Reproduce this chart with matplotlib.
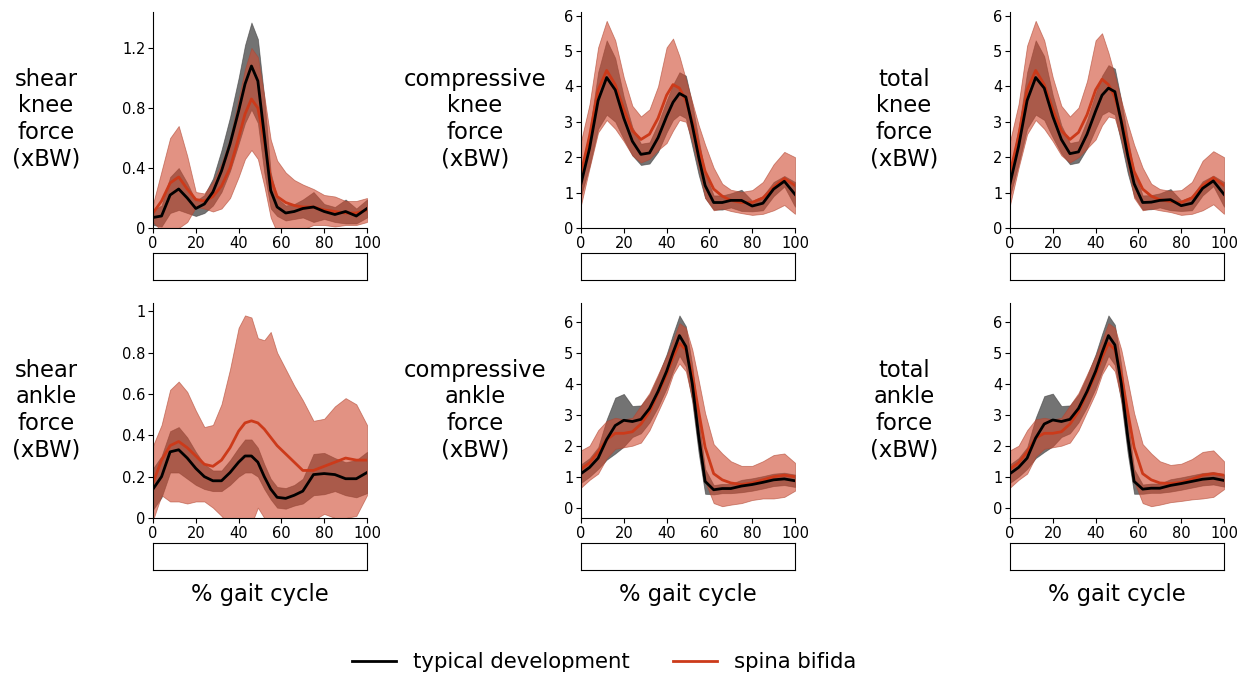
import numpy as np
import matplotlib
matplotlib.use("Agg")
import matplotlib.pyplot as plt
from matplotlib.ticker import FuncFormatter

# ---------------- data ----------------
gait_pct = [0, 4, 8, 12, 16, 20, 24, 28, 32, 36, 40, 43, 46, 49, 52, 55, 58, 62, 66, 70, 75, 80, 85, 90, 95, 100]

# shear knee force
shear_knee_td_mean = [0.07, 0.08, 0.22, 0.26, 0.20, 0.13, 0.16, 0.24, 0.38, 0.56, 0.78, 0.96, 1.08, 0.98, 0.62, 0.25, 0.14, 0.10, 0.11, 0.13, 0.14, 0.11, 0.09, 0.11, 0.08, 0.13]
shear_knee_td_sd = [0.05, 0.07, 0.12, 0.14, 0.10, 0.05, 0.06, 0.09, 0.14, 0.18, 0.22, 0.26, 0.29, 0.28, 0.25, 0.12, 0.06, 0.05, 0.05, 0.06, 0.10, 0.05, 0.05, 0.08, 0.05, 0.06]
shear_knee_sb_mean = [0.10, 0.18, 0.30, 0.34, 0.26, 0.19, 0.18, 0.21, 0.28, 0.40, 0.60, 0.76, 0.86, 0.80, 0.58, 0.33, 0.21, 0.17, 0.15, 0.14, 0.14, 0.12, 0.11, 0.10, 0.10, 0.12]
shear_knee_sb_sd = [0.06, 0.20, 0.30, 0.34, 0.22, 0.05, 0.05, 0.10, 0.15, 0.20, 0.26, 0.30, 0.34, 0.34, 0.30, 0.26, 0.24, 0.20, 0.17, 0.15, 0.12, 0.10, 0.10, 0.08, 0.08, 0.08]

# compressive knee force
comp_knee_td_mean = [1.25, 2.25, 3.60, 4.25, 3.90, 3.10, 2.45, 2.08, 2.12, 2.55, 3.15, 3.55, 3.80, 3.70, 2.90, 2.00, 1.20, 0.72, 0.72, 0.78, 0.78, 0.62, 0.70, 1.10, 1.32, 0.95]
comp_knee_td_sd = [0.35, 0.50, 0.80, 1.05, 0.90, 0.60, 0.40, 0.30, 0.30, 0.40, 0.45, 0.50, 0.60, 0.60, 0.60, 0.50, 0.35, 0.20, 0.20, 0.20, 0.30, 0.15, 0.20, 0.20, 0.15, 0.35]
comp_knee_sb_mean = [1.55, 2.60, 3.90, 4.45, 4.05, 3.35, 2.75, 2.50, 2.65, 3.10, 3.75, 4.05, 3.95, 3.60, 3.00, 2.30, 1.60, 1.10, 0.90, 0.78, 0.72, 0.72, 0.85, 1.15, 1.40, 1.20]
comp_knee_sb_sd = [0.90, 0.90, 1.20, 1.40, 1.25, 0.90, 0.70, 0.65, 0.70, 0.90, 1.35, 1.30, 0.90, 0.60, 0.55, 0.60, 0.75, 0.60, 0.35, 0.30, 0.30, 0.35, 0.45, 0.65, 0.75, 0.80]

# total knee force
total_knee_td_mean = [1.25, 2.30, 3.60, 4.25, 3.95, 3.15, 2.50, 2.10, 2.15, 2.65, 3.30, 3.75, 3.95, 3.85, 3.00, 2.05, 1.25, 0.72, 0.73, 0.78, 0.80, 0.63, 0.70, 1.12, 1.33, 0.95]
total_knee_td_sd = [0.35, 0.50, 0.80, 1.05, 0.90, 0.60, 0.40, 0.30, 0.30, 0.40, 0.50, 0.55, 0.65, 0.65, 0.60, 0.50, 0.35, 0.20, 0.20, 0.20, 0.30, 0.15, 0.20, 0.20, 0.15, 0.35]
total_knee_sb_mean = [1.55, 2.60, 3.90, 4.45, 4.05, 3.35, 2.75, 2.50, 2.70, 3.20, 3.90, 4.20, 4.05, 3.70, 3.05, 2.35, 1.60, 1.10, 0.90, 0.80, 0.75, 0.72, 0.85, 1.20, 1.42, 1.20]
total_knee_sb_sd = [0.90, 0.90, 1.25, 1.40, 1.25, 0.90, 0.70, 0.65, 0.70, 0.95, 1.40, 1.30, 0.90, 0.60, 0.55, 0.60, 0.75, 0.60, 0.35, 0.30, 0.30, 0.35, 0.45, 0.70, 0.75, 0.80]

# shear ankle force
shear_ankle_td_mean = [0.14, 0.20, 0.32, 0.33, 0.29, 0.24, 0.20, 0.18, 0.18, 0.22, 0.27, 0.30, 0.30, 0.27, 0.20, 0.14, 0.10, 0.095, 0.11, 0.13, 0.21, 0.215, 0.21, 0.19, 0.19, 0.22]
shear_ankle_td_sd = [0.10, 0.10, 0.10, 0.11, 0.10, 0.08, 0.06, 0.05, 0.05, 0.06, 0.07, 0.08, 0.08, 0.07, 0.06, 0.05, 0.05, 0.05, 0.05, 0.06, 0.10, 0.10, 0.08, 0.08, 0.09, 0.10]
shear_ankle_sb_mean = [0.17, 0.28, 0.35, 0.37, 0.34, 0.30, 0.26, 0.25, 0.28, 0.34, 0.42, 0.46, 0.47, 0.46, 0.43, 0.39, 0.35, 0.31, 0.27, 0.23, 0.23, 0.25, 0.27, 0.29, 0.28, 0.28]
shear_ankle_sb_sd = [0.18, 0.17, 0.27, 0.29, 0.27, 0.22, 0.18, 0.20, 0.27, 0.38, 0.50, 0.52, 0.50, 0.41, 0.43, 0.51, 0.45, 0.41, 0.37, 0.34, 0.24, 0.23, 0.27, 0.29, 0.27, 0.17]

# compressive ankle force
comp_ankle_td_mean = [1.10, 1.30, 1.60, 2.20, 2.65, 2.82, 2.78, 2.85, 3.20, 3.75, 4.40, 5.00, 5.55, 5.20, 4.00, 2.30, 0.85, 0.58, 0.62, 0.62, 0.70, 0.75, 0.82, 0.90, 0.93, 0.87]
comp_ankle_td_sd = [0.30, 0.30, 0.35, 0.65, 0.90, 0.85, 0.50, 0.45, 0.45, 0.50, 0.55, 0.60, 0.65, 0.65, 0.60, 0.55, 0.40, 0.15, 0.15, 0.15, 0.20, 0.20, 0.20, 0.20, 0.20, 0.20]
comp_ankle_sb_mean = [1.25, 1.45, 1.80, 2.20, 2.40, 2.40, 2.45, 2.70, 3.10, 3.70, 4.30, 4.85, 5.30, 5.10, 4.30, 3.10, 1.95, 1.10, 0.90, 0.80, 0.75, 0.80, 0.90, 1.00, 1.05, 1.00]
comp_ankle_sb_sd = [0.60, 0.55, 0.70, 0.60, 0.50, 0.45, 0.45, 0.60, 0.60, 0.60, 0.60, 0.55, 0.65, 0.70, 0.80, 1.00, 1.10, 0.95, 0.85, 0.70, 0.60, 0.55, 0.60, 0.70, 0.70, 0.45]

# total ankle force
total_ankle_td_mean = [1.10, 1.30, 1.60, 2.25, 2.70, 2.83, 2.78, 2.85, 3.20, 3.75, 4.40, 5.00, 5.55, 5.25, 4.00, 2.30, 0.85, 0.60, 0.63, 0.63, 0.72, 0.78, 0.85, 0.92, 0.95, 0.88]
total_ankle_td_sd = [0.30, 0.30, 0.35, 0.65, 0.90, 0.85, 0.50, 0.45, 0.45, 0.50, 0.55, 0.60, 0.65, 0.65, 0.60, 0.55, 0.40, 0.15, 0.15, 0.15, 0.20, 0.20, 0.20, 0.20, 0.20, 0.20]
total_ankle_sb_mean = [1.25, 1.45, 1.80, 2.25, 2.40, 2.40, 2.45, 2.70, 3.10, 3.70, 4.30, 4.85, 5.30, 5.10, 4.30, 3.10, 1.95, 1.10, 0.90, 0.80, 0.78, 0.82, 0.92, 1.05, 1.10, 1.05]
total_ankle_sb_sd = [0.60, 0.55, 0.70, 0.60, 0.50, 0.45, 0.45, 0.60, 0.60, 0.60, 0.60, 0.55, 0.65, 0.70, 0.80, 1.00, 1.10, 0.95, 0.85, 0.70, 0.60, 0.60, 0.65, 0.75, 0.75, 0.45]

panel_labels = ["shear\nknee\nforce\n(xBW)", "compressive\nknee\nforce\n(xBW)", "total\nknee\nforce\n(xBW)",
                "shear\nankle\nforce\n(xBW)", "compressive\nankle\nforce\n(xBW)", "total\nankle\nforce\n(xBW)"]
xticks = [0, 20, 40, 60, 80, 100]
xlabel_text = "% gait cycle"
legend_labels = ["typical development", "spina bifida"]

# ---------------- styling ----------------
TD_LINE = "black"
SB_LINE = "#cc3a1a"
SB_FILL = "#d04a30"
TD_FILL = "black"

W, H = 1245, 674
plt.rcParams["font.family"] = "DejaVu Sans"
fig = plt.figure(figsize=(W / 100, H / 100), dpi=100)

def rect(x0, y0, x1, y1):
    return [x0 / W, 1 - y1 / H, (x1 - x0) / W, (y1 - y0) / H]

cols = [(153, 367), (581, 795), (1010, 1224)]
rows = [(12, 228), (303, 518)]
boxes = [(253, 280), (543, 570)]
label_x = [46, 475, 904]
label_y = [119, 410]

panels = [
    (shear_knee_td_mean, shear_knee_td_sd, shear_knee_sb_mean, shear_knee_sb_sd, (0, 1.44), [0, 0.4, 0.8, 1.2]),
    (comp_knee_td_mean, comp_knee_td_sd, comp_knee_sb_mean, comp_knee_sb_sd, (0, 6.1), [0, 1, 2, 3, 4, 5, 6]),
    (total_knee_td_mean, total_knee_td_sd, total_knee_sb_mean, total_knee_sb_sd, (0, 6.1), [0, 1, 2, 3, 4, 5, 6]),
    (shear_ankle_td_mean, shear_ankle_td_sd, shear_ankle_sb_mean, shear_ankle_sb_sd, (0, 1.04), [0, 0.2, 0.4, 0.6, 0.8, 1]),
    (comp_ankle_td_mean, comp_ankle_td_sd, comp_ankle_sb_mean, comp_ankle_sb_sd, (-0.33, 6.6), [0, 1, 2, 3, 4, 5, 6]),
    (total_ankle_td_mean, total_ankle_td_sd, total_ankle_sb_mean, total_ankle_sb_sd, (-0.33, 6.6), [0, 1, 2, 3, 4, 5, 6]),
]

x = np.array(gait_pct, dtype=float)
fmt = FuncFormatter(lambda v, p: f"{v:g}")
handles = None
for i, (tdm, tds, sbm, sbs, ylim, yt) in enumerate(panels):
    r, c = divmod(i, 3)
    ax = fig.add_axes(rect(cols[c][0], rows[r][0], cols[c][1], rows[r][1]))
    tdm, tds, sbm, sbs = map(np.array, (tdm, tds, sbm, sbs))
    ax.fill_between(x, tdm - tds, tdm + tds, facecolor=TD_FILL, alpha=0.55,
                    edgecolor="#333333", lw=0.6)
    ax.fill_between(x, sbm - sbs, sbm + sbs, facecolor=SB_FILL, alpha=0.6,
                    edgecolor="#b04530", lw=0.6)
    l2, = ax.plot(x, sbm, color=SB_LINE, lw=2)
    l1, = ax.plot(x, tdm, color=TD_LINE, lw=2)
    handles = [l1, l2]
    ax.set_xlim(0, 100)
    ax.set_ylim(*ylim)
    ax.set_xticks(xticks)
    ax.set_yticks(yt)
    ax.yaxis.set_major_formatter(fmt)
    ax.tick_params(labelsize=10.5, length=3.5, pad=2)
    for s in ("top", "right"):
        ax.spines[s].set_visible(False)
    # empty box beneath
    bx = fig.add_axes(rect(cols[c][0], boxes[r][0], cols[c][1], boxes[r][1]))
    bx.set_xticks([])
    bx.set_yticks([])
    fig.text(label_x[c] / W, 1 - label_y[r] / H, panel_labels[i], ha="center", va="center",
             multialignment="center", fontsize=16.3, linespacing=1.2)
    if r == 1:
        fig.text((cols[c][0] + cols[c][1]) / 2 / W, 1 - 594 / H, xlabel_text, ha="center",
                 va="center", fontsize=16.3)

fig.legend(handles, legend_labels, loc="center", bbox_to_anchor=(604 / W, 1 - 662 / H), ncol=2,
           frameon=False, fontsize=15.3, handlelength=2.1, handletextpad=0.8, columnspacing=2.0)

fig.savefig("out.png", dpi=100)
